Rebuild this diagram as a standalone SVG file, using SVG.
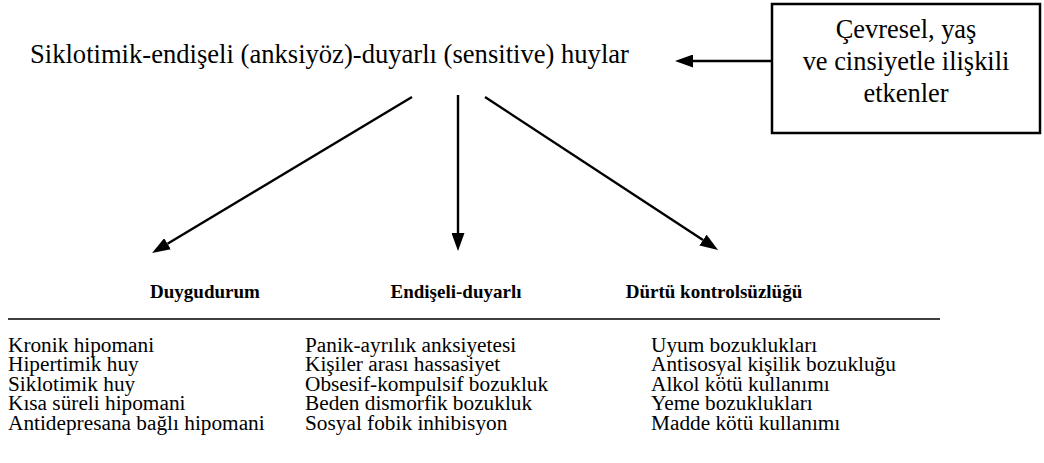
<svg xmlns="http://www.w3.org/2000/svg" width="1044" height="463" viewBox="0 0 1044 463" font-family="Liberation Serif, serif">
<style>
  .title { font-size: 26.6px; }
  .boxt { font-size: 26.4px; text-anchor: middle; }
  .head { font-size: 19px; font-weight: bold; text-anchor: middle; }
  .item { font-size: 21.3px; }
  .conn { stroke: #000; stroke-width: 2.4; fill: none; }
</style>
<defs>
  <marker id="ah" markerUnits="userSpaceOnUse" markerWidth="18" markerHeight="13" refX="0" refY="6.5" orient="auto">
    <path d="M0,0 L18,6.5 L0,13 z" fill="#000"/>
  </marker>
</defs>
<rect width="1044" height="463" fill="#fff"/>
<g id="title" font-family="Liberation Serif, serif">
  <text class="title" x="30" y="63">Siklotimik-endişeli (anksiyöz)-duyarlı (sensitive) huylar</text>
</g>
<g id="factors" font-family="Liberation Serif, serif">
  <rect x="772" y="4" width="268" height="129" fill="#fff" stroke="#000" stroke-width="2.5"/>
  <text class="boxt" x="906" y="38">Çevresel, yaş</text>
  <text class="boxt" x="906" y="70">ve cinsiyetle ilişkili</text>
  <text class="boxt" x="906" y="102">etkenler</text>
</g>
<g id="connectors">
  <line class="conn" x1="772" y1="61" x2="693" y2="61" marker-end="url(#ah)"/>
  <line class="conn" x1="412" y1="97" x2="167.5" y2="243.8" marker-end="url(#ah)"/>
  <line class="conn" x1="458" y1="95" x2="458" y2="233" marker-end="url(#ah)"/>
  <line class="conn" x1="485" y1="97" x2="703" y2="240.1" marker-end="url(#ah)"/>
</g>
<g id="table">
  <line x1="8" y1="319" x2="940" y2="319" stroke="#000" stroke-width="1.5"/>
</g>
<g id="col-duygudurum" font-family="Liberation Serif, serif">
  <text class="head" x="205" y="298">Duygudurum</text>
  <text class="item" x="8" y="351.5">Kronik hipomani</text>
  <text class="item" x="8" y="371">Hipertimik huy</text>
  <text class="item" x="8" y="390.5">Siklotimik huy</text>
  <text class="item" x="8" y="410">Kısa süreli hipomani</text>
  <text class="item" x="8" y="429.5">Antidepresana bağlı hipomani</text>
</g>
<g id="col-endiseli" font-family="Liberation Serif, serif">
  <text class="head" x="456" y="298">Endişeli-duyarlı</text>
  <text class="item" x="305" y="351.5">Panik-ayrılık anksiyetesi</text>
  <text class="item" x="305" y="371">Kişiler arası hassasiyet</text>
  <text class="item" x="305" y="390.5">Obsesif-kompulsif bozukluk</text>
  <text class="item" x="305" y="410">Beden dismorfik bozukluk</text>
  <text class="item" x="305" y="429.5">Sosyal fobik inhibisyon</text>
</g>
<g id="col-durtu" font-family="Liberation Serif, serif">
  <text class="head" x="714" y="298">Dürtü kontrolsüzlüğü</text>
  <text class="item" x="651" y="351.5">Uyum bozuklukları</text>
  <text class="item" x="651" y="371">Antisosyal kişilik bozukluğu</text>
  <text class="item" x="651" y="390.5">Alkol kötü kullanımı</text>
  <text class="item" x="651" y="410">Yeme bozuklukları</text>
  <text class="item" x="651" y="429.5">Madde kötü kullanımı</text>
</g>
</svg>
